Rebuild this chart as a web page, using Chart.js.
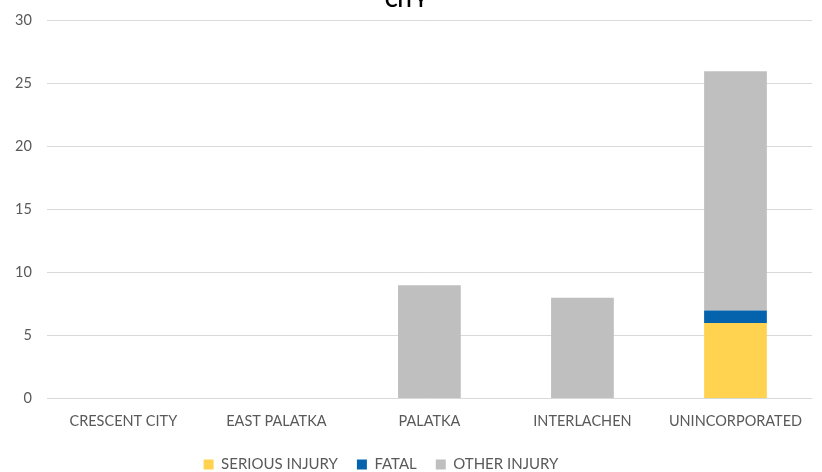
<!DOCTYPE html>
<html lang="en">
<head>
    <meta charset="UTF-8">
    <title>City</title>
    <script src="https://cdn.jsdelivr.net/npm/chart.js"></script>
    <style>
        html, body { margin: 0; padding: 0; background: #fff; overflow: hidden; }
        #cityChart { position: absolute; left: 0; top: -14px; }
    </style>
</head>
<body>
    <canvas id="cityChart" width="822" height="486"></canvas>
    <script>
        const cities = ['CRESCENT CITY', 'EAST PALATKA', 'PALATKA', 'INTERLACHEN', 'UNINCORPORATED'];
        const seriousInjury = [0, 0, 0, 0, 6];
        const fatal = [0, 0, 0, 0, 1];
        const otherInjury = [0, 0, 9, 8, 19];
        const yTicks = [0, 5, 10, 15, 20, 25, 30];

        const font = "'Lato', 'Open Sans', sans-serif";

        // legend sits a bit left of centre and lower than chart.js puts it
        const legendShift = {
            id: 'legendShift',
            afterLayout(chart) {
                const lg = chart.legend;
                lg.left -= 25;
                lg.right -= 25;
                lg.top += 10;
                lg.bottom += 10;
            }
        };

        new Chart(document.getElementById('cityChart'), {
            type: 'bar',
            data: {
                labels: cities,
                datasets: [
                    { label: 'SERIOUS INJURY', data: seriousInjury, backgroundColor: '#ffd24f' },
                    { label: 'FATAL', data: fatal, backgroundColor: '#0563ad' },
                    { label: 'OTHER INJURY', data: otherInjury, backgroundColor: '#bfbfbf' }
                ]
            },
            plugins: [legendShift],
            options: {
                responsive: false,
                animation: false,
                devicePixelRatio: 1,
                layout: { padding: { left: 0, right: 10, top: 0, bottom: 0 } },
                datasets: { bar: { categoryPercentage: 1, barPercentage: 0.41 } },
                scales: {
                    x: {
                        stacked: true,
                        grid: { display: false },
                        border: { display: false },
                        ticks: { color: '#595959', font: { family: font, size: 14.5 }, padding: 6 },
                        afterFit: axis => { axis.height -= 8; }
                    },
                    y: {
                        stacked: true,
                        min: 0,
                        max: 30,
                        afterBuildTicks: axis => { axis.ticks = yTicks.map(v => ({ value: v })); },
                        grid: { color: '#d9d9d9', lineWidth: 1, drawTicks: false },
                        border: { display: false },
                        ticks: { color: '#595959', font: { family: font, size: 14.5 }, padding: 15 }
                    }
                },
                plugins: {
                    title: {
                        display: true,
                        text: 'CITY',
                        color: '#000',
                        font: { family: font, size: 19, weight: 'bold' },
                        padding: { top: 3, bottom: 9 }
                    },
                    legend: {
                        position: 'bottom',
                        labels: {
                            color: '#595959',
                            font: { family: font, size: 15 },
                            boxWidth: 10,
                            boxHeight: 10,
                            padding: 19
                        }
                    },
                    tooltip: { enabled: false }
                }
            }
        });
    </script>
</body>
</html>
